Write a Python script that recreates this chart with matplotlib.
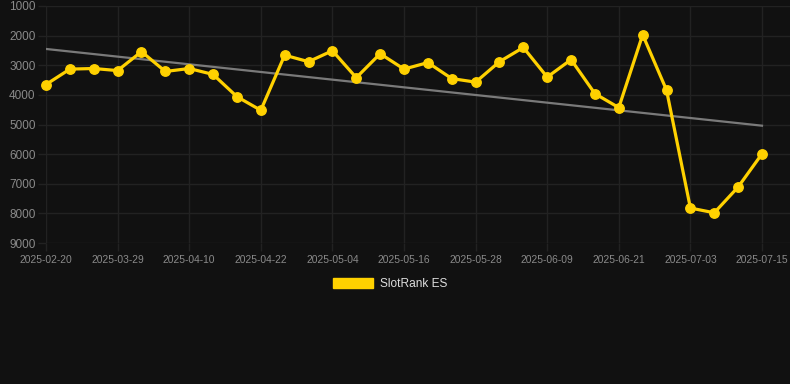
import matplotlib
matplotlib.use("Agg")
import matplotlib.pyplot as plt
from matplotlib.patches import Patch

dates = ["2025-02-20", "2025-03-21", "2025-03-25", "2025-03-29", "2025-04-02", "2025-04-06",
         "2025-04-10", "2025-04-14", "2025-04-18", "2025-04-22", "2025-04-26", "2025-04-30",
         "2025-05-04", "2025-05-08", "2025-05-12", "2025-05-16", "2025-05-20", "2025-05-24",
         "2025-05-28", "2025-06-01", "2025-06-05", "2025-06-09", "2025-06-13", "2025-06-17",
         "2025-06-21", "2025-06-25", "2025-06-29", "2025-07-03", "2025-07-07", "2025-07-11",
         "2025-07-15"]
rank = [3650, 3130, 3110, 3180, 2540, 3210, 3110, 3310, 4060, 4520,
        2660, 2880, 2510, 3420, 2610, 3130, 2910, 3450, 3570, 2880,
        2400, 3400, 2810, 3960, 4430, 1970, 3840, 7820, 7980, 7110, 5990]
trend = [2450, 5040]
yticks = [1000, 2000, 3000, 4000, 5000, 6000, 7000, 8000, 9000]
series_name = "SlotRank ES"

BG = "#111111"
GRID = "#222222"
GOLD = "#FFD100"
TXT = "#8a8a8a"

plt.rcParams["font.family"] = ["Liberation Sans", "DejaVu Sans"]

W, H = 790, 384
fig = plt.figure(figsize=(W / 100, H / 100), dpi=100, facecolor=BG)
left_px, right_px, top_px, bot_px = 46, 790, 6, 243
ax = fig.add_axes([left_px / W, 1 - bot_px / H, (right_px - left_px) / W, (bot_px - top_px) / H])
ax.set_facecolor(BG)

n = len(rank)
x = list(range(n))
step = (762 - 46) / (n - 1)
ax.set_xlim(0, (right_px - left_px) / step)
ax.set_ylim(9000, 1000)

ax.plot([0, n - 1], trend, color="#7a7a7a", lw=1.6, zorder=2)
ax.plot(x, rank, color=GOLD, lw=2.3, marker="o", ms=6.8, zorder=3, clip_on=False)

ax.set_yticks(yticks)
ax.set_yticklabels([str(v) for v in yticks])
tick_idx = list(range(0, n, 3))
ax.set_xticks(tick_idx)
ax.set_xticklabels([dates[i] for i in tick_idx])

ax.grid(True, color=GRID, lw=1.0, zorder=0)
for s in ax.spines.values():
    s.set_visible(False)
ax.tick_params(axis="y", colors=GRID, length=6, width=1.0, pad=1.5, labelcolor=TXT, labelsize=8.5)
ax.tick_params(axis="x", colors=GRID, length=6, width=1.0, pad=2.5, labelcolor=TXT, labelsize=7.4)

handle = Patch(facecolor=GOLD, edgecolor=GOLD)
leg = fig.legend([handle], [series_name], loc="center", bbox_to_anchor=(390 / W, 1 - 284 / H),
                 frameon=False, fontsize=8.6, handlelength=3.4, handleheight=0.95,
                 handletextpad=0.55, labelcolor="#dddddd")

fig.savefig("out.png", dpi=100, facecolor=BG)
